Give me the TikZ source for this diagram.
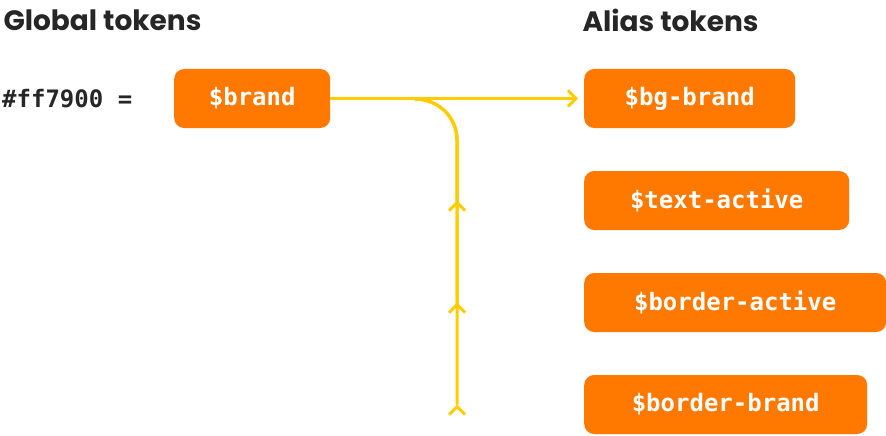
\documentclass[tikz,border=0pt]{standalone}
\usepackage{fontspec}
\setmainfont{Poppins}
\newfontfamily\monof{DejaVu Sans Mono}
\usetikzlibrary{arrows.meta}
\definecolor{brandor}{HTML}{FF7900}
\definecolor{flowy}{HTML}{FFCC00}
\begin{document}
\begin{tikzpicture}[x=1pt,y=-1pt,
  tok/.style={fill=brandor,rounded corners=10pt,text=white,font=\monof\bfseries\fontsize{24}{24}\selectfont,minimum height=59pt,anchor=west,inner xsep=12pt},
  title/.style={font=\bfseries\fontsize{28}{28}\selectfont,anchor=west,text=black!85},
  link/.style={draw=flowy,line width=3pt,-{Straight Barb[length=8pt,width=16pt,line width=3pt]}}]
\useasboundingbox (0,0) rectangle (886,436);
\node[title] (gt) at (0,20) {Global tokens};
\node[title] (at) at (579,20) {Alias tokens};
\node[anchor=west,font=\monof\bfseries\fontsize{24}{24}\selectfont,text=black!85,inner sep=0] (hex) at (2,99) {\#ff7900 =};
\node[tok,minimum width=156pt] (brand) at (174,98.5) {\$brand};
\node[tok,minimum width=211pt,align=left] (a1) at (584,98.5) {\$bg-brand};
\node[tok,minimum width=265pt] (a2) at (584,200.5) {\$text-active};
\node[tok,minimum width=302pt] (a3) at (584,302.5) {\$border-active};
\node[tok,minimum width=283pt] (a4) at (584,404.5) {\$border-brand};
\coordinate (s) at (brand.east);
\draw[link] (s) -- ([xshift=-6pt]a1.west);
\foreach \t in {a2,a3,a4}{
  \draw[link] (415,99) to[out=0,in=90] (457,140) |- ([yshift=0pt]457,0 |- \t.west) ;
}
\foreach \t in {a2,a3,a4}{
  \draw[draw=white,line width=5pt] (455,0|-\t.west) ++(0,-40) -- ++(0,0);
}
\end{tikzpicture}
\end{document}
